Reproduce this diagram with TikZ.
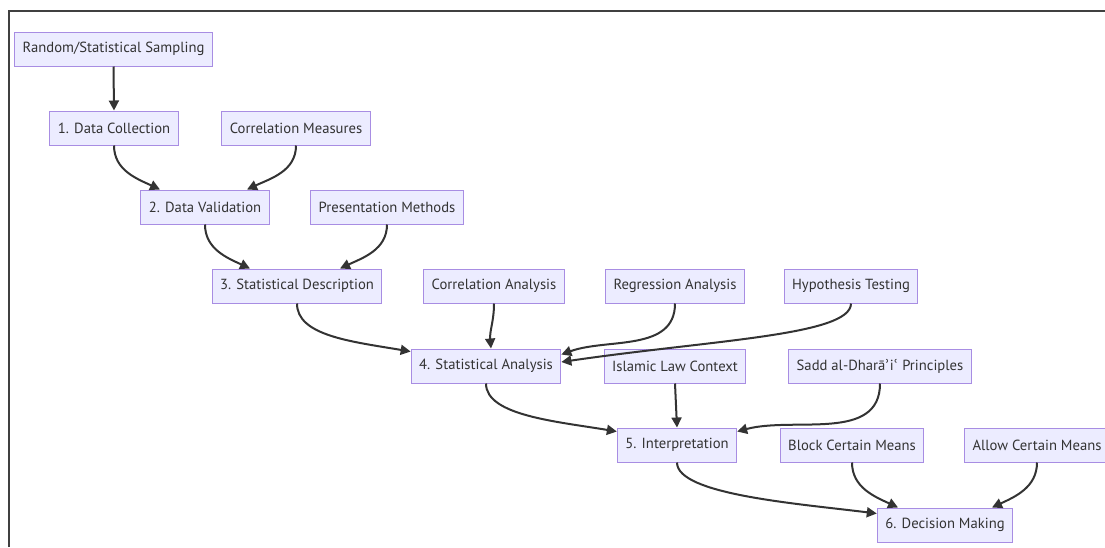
\documentclass[tikz,border=0pt]{standalone}
\usepackage{fontspec}
\setmainfont{PT Sans}
\newfontfamily\marksfont{DejaVu Sans}
\usepackage{xcolor}
\definecolor{mmfill}{HTML}{ECECFF}
\definecolor{mmborder}{HTML}{A88DE3}
\definecolor{mmline}{HTML}{333333}
\usetikzlibrary{
  arrows.meta,
  calc
}

\begin{document}
\begin{tikzpicture}[
  x=0.75pt, y=-0.75pt,
  box/.style={draw=mmborder, fill=mmfill, line width=0.75pt, text=mmline,
    font=\fontsize{11pt}{13pt}\selectfont, minimum height=25.5pt, inner xsep=6pt},
  flow/.style={draw=mmline, line width=1.5pt, -{Triangle[length=7.5pt, width=7.5pt]}},
  frame/.style={draw=black!75, line width=1.1pt}
]

\useasboundingbox (0,0) rectangle (1105,547);

% frame
\draw[frame] (9,547) -- (9,11) -- (1105,11);

% nodes
\node[box] (samp)     at (113.5,49) {Random/Statistical Sampling};
\node[box] (collect)  at (114,128)  {1. Data Collection};
\node[box] (corrmeas) at (296,128)  {Correlation Measures};
\node[box] (valid)    at (205,207)  {2. Data Validation};
\node[box] (present)  at (387,207)  {Presentation Methods};
\node[box] (desc)     at (297,286)  {3. Statistical Description};
\node[box] (corran)   at (494,286)  {Correlation Analysis};
\node[box] (regr)     at (675,286)  {Regression Analysis};
\node[box] (hypo)     at (851,286)  {Hypothesis Testing};
\node[box] (anal)     at (486,366)  {4. Statistical Analysis};
\node[box] (islam)    at (675,366)  {Islamic Law Context};
\node[box] (sadd)     at (880,366)  {Sadd al-Dharā{\marksfont ʾ}i{\marksfont ʿ} Principles};
\node[box] (interp)   at (677,445)  {5. Interpretation};
\node[box] (block)    at (852,445)  {Block Certain Means};
\node[box] (allow)    at (1037,445) {Allow Certain Means};
\node[box] (decide)   at (945,525)  {6. Decision Making};

% edges
\draw[flow] (samp.south) -- (collect.north);
\draw[flow] (collect.south) to[out=-90, in=155] ($(valid.north)+(-45,0)$);
\draw[flow] (corrmeas.south) to[out=-90, in=25] ($(valid.north)+(42,0)$);
\draw[flow] (valid.south) to[out=-90, in=155] ($(desc.north)+(-47,0)$);
\draw[flow] (present.south) to[out=-90, in=25] ($(desc.north)+(43,0)$);
\draw[flow] (desc.south) .. controls +(0,32) and +(-60,-10) .. ($(anal.north west)+(0,3)$);
\draw[flow] (corran.south) to[out=-90, in=95] ($(anal.north)+(5,0)$);
\draw[flow] (regr.south) to[out=-90, in=20] ($(anal.north east)+(0,6)$);
\draw[flow] (hypo.south) .. controls +(0,32) and +(150,-22) .. ($(anal.east)+(0,-4)$);
\draw[flow] (anal.south) .. controls +(0,32) and +(-60,-10) .. ($(interp.north west)+(0,4)$);
\draw[flow] (islam.south) -- (interp.north);
\draw[flow] (sadd.south) to[out=-90, in=15] ($(interp.north east)+(0,4)$);
\draw[flow] (interp.south) .. controls +(0,32) and +(-80,-10) .. ($(decide.north west)+(0,6)$);
\draw[flow] (block.south) to[out=-90, in=155] ($(decide.north)+(-47,0)$);
\draw[flow] (allow.south) to[out=-90, in=25] ($(decide.north)+(47,0)$);

\end{tikzpicture}
\end{document}
